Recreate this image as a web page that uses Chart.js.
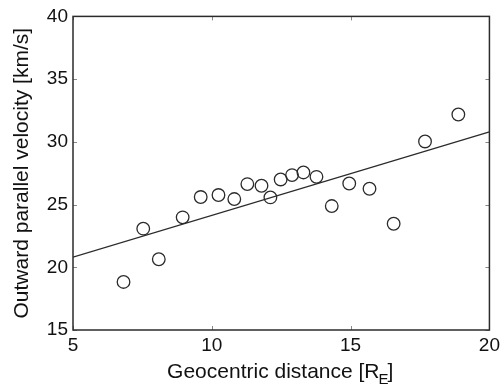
<!DOCTYPE html>
<html>
<head>
<meta charset="utf-8">
<script src="https://cdn.jsdelivr.net/npm/chart.js@4"></script>
<style>
  html, body { margin: 0; padding: 0; background: #fff; }
  canvas { display: block; }
</style>
</head>
<body>
<canvas id="chart" width="504" height="392"></canvas>
<script>
Chart.defaults.font.family = '"Liberation Sans", Arial, sans-serif';
Chart.defaults.color = '#111';

// measured points
const distance = [6.82, 7.53, 8.09, 8.95, 9.60, 10.24, 10.81, 11.28, 11.79, 12.11,
                  12.48, 12.89, 13.30, 13.77, 14.32, 14.95, 15.68, 16.55, 17.68, 18.88];
const velocity = [18.83, 23.08, 20.64, 23.98, 25.60, 25.76, 25.44, 26.63, 26.50, 25.57,
                  27.00, 27.35, 27.56, 27.21, 24.88, 26.68, 26.26, 23.47, 30.03, 32.18];

// linear fit
const fitX = [5, 20];
const fitY = [20.8, 30.8];

const xTicks = [5, 10, 15, 20];
const yTicks = [15, 20, 25, 30, 35, 40];

const ink = '#2b2b2b';

// box around the plot, inward ticks, x title with subscript
const frame = {
    id: 'frame',
    afterDraw(chart) {
        const c = chart.ctx;
        const a = chart.chartArea;
        const xs = chart.scales.x;
        const ys = chart.scales.y;
        c.save();
        c.strokeStyle = '#888';
        c.lineWidth = 1;
        xTicks.forEach(v => {
            const px = Math.round(xs.getPixelForValue(v)) + 0.5;
            c.beginPath();
            c.moveTo(px, a.bottom); c.lineTo(px, a.bottom - 4);
            c.moveTo(px, a.top); c.lineTo(px, a.top + 4);
            c.stroke();
        });
        yTicks.forEach(v => {
            const py = Math.round(ys.getPixelForValue(v)) + 0.5;
            c.beginPath();
            c.moveTo(a.left, py); c.lineTo(a.left + 4, py);
            c.moveTo(a.right, py); c.lineTo(a.right - 4, py);
            c.stroke();
        });
        c.strokeStyle = ink;
        c.lineWidth = 1.5;
        c.strokeRect(a.left, a.top, a.right - a.left, a.bottom - a.top);

        // x title
        c.fillStyle = '#111';
        c.textBaseline = 'alphabetic';
        const main = 'Geocentric distance [R';
        c.font = '21px "Liberation Sans", Arial, sans-serif';
        const w1 = c.measureText(main).width;
        c.font = '15px "Liberation Sans", Arial, sans-serif';
        const w2 = c.measureText('E').width;
        c.font = '21px "Liberation Sans", Arial, sans-serif';
        const w3 = c.measureText(']').width;
        let x0 = (a.left + a.right) / 2 - (w1 + w2 + w3) / 2;
        const base = 378;
        c.textAlign = 'left';
        c.fillText(main, x0, base);
        c.font = '15px "Liberation Sans", Arial, sans-serif';
        c.fillText('E', x0 + w1 - 1, base + 6);
        c.font = '21px "Liberation Sans", Arial, sans-serif';
        c.fillText(']', x0 + w1 + w2 - 2, base);
        c.restore();
    }
};

new Chart(document.getElementById('chart'), {
    type: 'scatter',
    data: {
        datasets: [
            {
                type: 'line',
                data: fitX.map((x, i) => ({x: x, y: fitY[i]})),
                borderColor: ink,
                borderWidth: 1.3,
                pointRadius: 0,
                fill: false
            },
            {
                data: distance.map((x, i) => ({x: x, y: velocity[i]})),
                pointStyle: 'circle',
                pointRadius: 6.3,
                pointBorderWidth: 1.3,
                pointBorderColor: ink,
                pointBackgroundColor: 'rgba(0,0,0,0)'
            }
        ]
    },
    options: {
        responsive: false,
        animation: false,
        devicePixelRatio: 1,
        layout: {
            padding: {top: 16, right: 13, left: 0, bottom: 0}
        },
        plugins: {
            legend: {display: false},
            tooltip: {enabled: false}
        },
        scales: {
            x: {
                type: 'linear',
                min: 5,
                max: 20,
                afterBuildTicks: s => { s.ticks = xTicks.map(v => ({value: v})); },
                afterFit: s => { s.height = 62; },
                grid: {display: false, drawTicks: false},
                border: {display: false},
                ticks: {
                    font: {size: 19},
                    padding: 4,
                    maxRotation: 0
                }
            },
            y: {
                min: 15,
                max: 40,
                afterBuildTicks: s => { s.ticks = yTicks.map(v => ({value: v})); },
                afterFit: s => { s.width = 73; },
                grid: {display: false, drawTicks: false},
                border: {display: false},
                ticks: {
                    font: {size: 19},
                    padding: 5
                },
                title: {
                    display: true,
                    text: 'Outward parallel velocity [km/s]',
                    font: {size: 21},
                    padding: {top: 10, bottom: 0}
                }
            }
        }
    },
    plugins: [frame]
});
</script>
</body>
</html>
